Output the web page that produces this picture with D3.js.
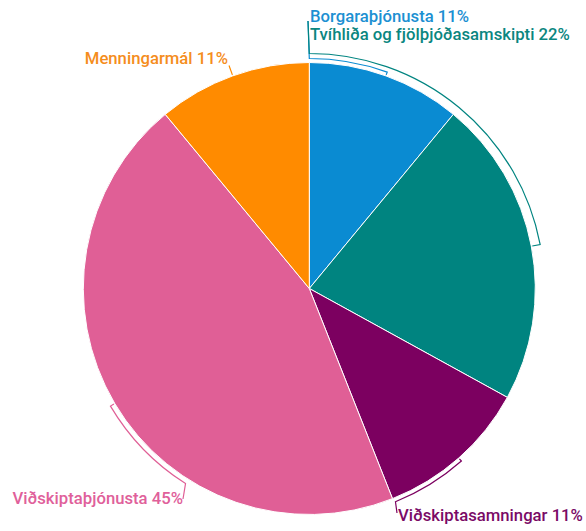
<!DOCTYPE html>
<html>
<head>
<meta charset="utf-8">
<script src="https://cdn.jsdelivr.net/npm/d3@7/dist/d3.min.js"></script>
<style>
  html, body { margin: 0; padding: 0; background: #fff; }
  svg { display: block; }
  text { font-family: Roboto, "Noto Sans", sans-serif; font-weight: 500; font-size: 16.7px; }
</style>
</head>
<body>
<svg id="chart" width="586" height="531"></svg>
<script>
// Share of activities by category (percent), clockwise from 12 o'clock
const categories = [
  "Borgaraþjónusta",
  "Tvíhliða og fjölþjóðasamskipti",
  "Viðskiptasamningar",
  "Viðskiptaþjónusta",
  "Menningarmál"
];
const shares = [11, 22, 11, 45, 11];
const sliceColors = ["#0a8bd2", "#008480", "#7c0060", "#e05f96", "#ff8b00"];
const labelColors = ["#1c90d2", "#0a8680", "#7a0a66", "#e0609a", "#f58d1c"];

// Label placement: angle (deg) where the leader leaves its arc, arc offset
// beyond the rim, and the point the leader ends at next to the text.
const labelLayout = [
  { anchorDeg: 0,     gap: 4, end: [308, 21],  tx: 310, ty: 22,  align: "start" },
  { anchorDeg: 0,     gap: 9, end: [308, 21],  tx: 310, ty: 40,  align: "start" },
  { anchorDeg: 158,   gap: 4, end: [397, 513], tx: 398, ty: 521, align: "start" },
  { anchorDeg: 212.4, gap: 5, end: [183, 499], tx: 183, ty: 504, align: "end" },
  { anchorDeg: null,  gap: 0, end: null,       tx: 228, ty: 64,  align: "end" }
];

const svg = d3.select("#chart");
const cx = 309.3, cy = 288.5, radius = 226;

const rows = categories.map((name, i) => ({ name, value: shares[i], i }));

const pie = d3.pie().sort(null).value(d => d.value).startAngle(0).endAngle(2 * Math.PI);
const arcs = pie(rows);

const arcGen = d3.arc().innerRadius(0).outerRadius(radius);

const g = svg.append("g").attr("transform", `translate(${cx},${cy})`);

g.selectAll("path.slice")
  .data(arcs)
  .join("path")
  .attr("class", "slice")
  .attr("d", arcGen)
  .attr("fill", d => sliceColors[d.data.i])
  .attr("stroke", "#ffffff")
  .attr("stroke-width", 1);

// polar helper: angle measured clockwise from 12 o'clock
const pt = (a, r) => [r * Math.sin(a), -r * Math.cos(a)];

const leaders = svg.append("g").attr("transform", `translate(${cx},${cy})`);

arcs.forEach(d => {
  const lay = labelLayout[d.data.i];
  const mid = (d.startAngle + d.endAngle) / 2;
  const p = d3.path();
  if (lay.anchorDeg === null) {
    // straight radial leader
    const a = pt(mid, radius + 1);
    const b = pt(mid, radius + 11);
    p.moveTo(a[0], a[1]);
    p.lineTo(b[0], b[1]);
  } else {
    const anchor = lay.anchorDeg * Math.PI / 180;
    const R = radius + lay.gap;
    const t0 = pt(mid, radius + 1);
    const t1 = pt(mid, R);
    p.moveTo(t0[0], t0[1]);
    p.lineTo(t1[0], t1[1]);
    p.arc(0, 0, R, mid - Math.PI / 2, anchor - Math.PI / 2, anchor < mid);
    p.lineTo(lay.end[0] - cx, lay.end[1] - cy);
  }
  leaders.append("path")
    .attr("d", p.toString())
    .attr("fill", "none")
    .attr("stroke", sliceColors[d.data.i])
    .attr("stroke-width", 1.2);
});

svg.append("g")
  .selectAll("text")
  .data(arcs)
  .join("text")
  .attr("x", d => labelLayout[d.data.i].tx)
  .attr("y", d => labelLayout[d.data.i].ty)
  .attr("text-anchor", d => labelLayout[d.data.i].align)
  .attr("fill", d => labelColors[d.data.i])
  .text(d => `${d.data.name} ${d.data.value}%`);
</script>
</body>
</html>
